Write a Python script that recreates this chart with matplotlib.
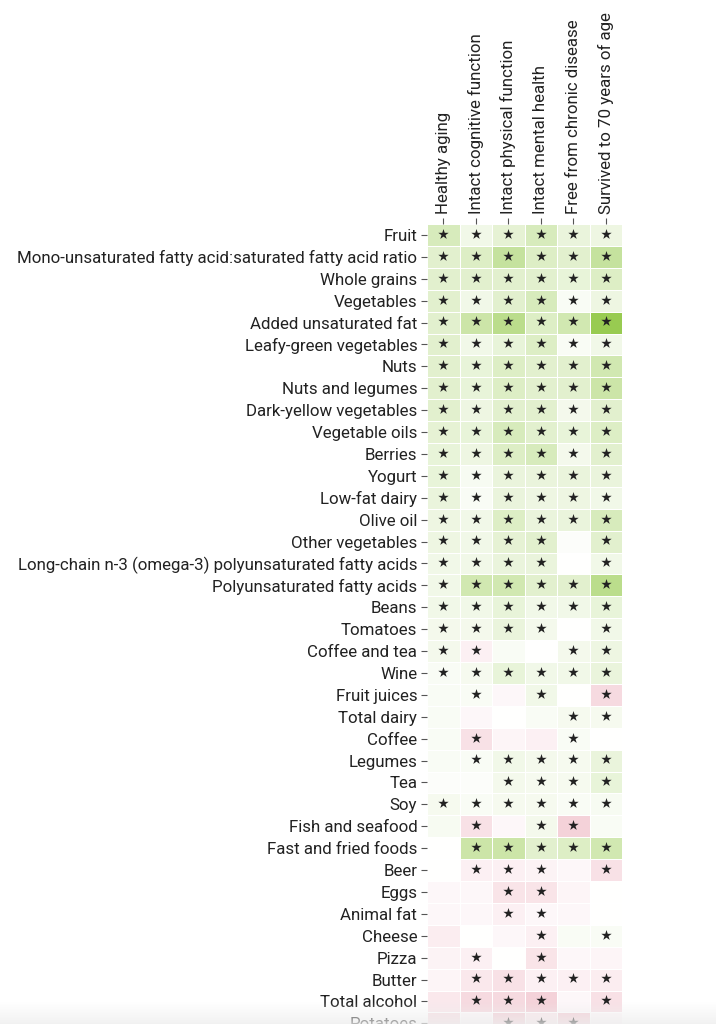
import numpy as np
import matplotlib
matplotlib.use("Agg")
import matplotlib.pyplot as plt
from matplotlib.colors import LinearSegmentedColormap

plt.rcParams['font.family'] = ['Roboto', 'DejaVu Sans']

outcomes = ["Healthy aging", "Intact cognitive function", "Intact physical function",
            "Intact mental health", "Free from chronic disease", "Survived to 70 years of age"]

foods = ["Fruit", "Mono-unsaturated fatty acid:saturated fatty acid ratio", "Whole grains",
         "Vegetables", "Added unsaturated fat", "Leafy-green vegetables", "Nuts",
         "Nuts and legumes", "Dark-yellow vegetables", "Vegetable oils", "Berries", "Yogurt",
         "Low-fat dairy", "Olive oil", "Other vegetables",
         "Long-chain n-3 (omega-3) polyunsaturated fatty acids", "Polyunsaturated fatty acids",
         "Beans", "Tomatoes", "Coffee and tea", "Wine", "Fruit juices", "Total dairy", "Coffee",
         "Legumes", "Tea", "Soy", "Fish and seafood", "Fast and fried foods", "Beer", "Eggs",
         "Animal fat", "Cheese", "Pizza", "Butter", "Total alcohol", "Potatoes"]

# association strength (positive = green, negative = pink)
values = np.array([
    [0.35, 0.12, 0.22, 0.35, 0.18, 0.15],   # Fruit
    [0.25, 0.30, 0.50, 0.30, 0.25, 0.50],   # MUFA:SFA
    [0.25, 0.25, 0.25, 0.25, 0.20, 0.30],   # Whole grains
    [0.25, 0.12, 0.25, 0.35, 0.05, 0.15],   # Vegetables
    [0.25, 0.45, 0.60, 0.30, 0.40, 0.90],   # Added unsaturated fat
    [0.25, 0.12, 0.20, 0.30, 0.05, 0.12],   # Leafy-green
    [0.25, 0.20, 0.30, 0.25, 0.25, 0.40],   # Nuts
    [0.25, 0.20, 0.30, 0.25, 0.25, 0.45],   # Nuts and legumes
    [0.25, 0.15, 0.25, 0.25, 0.10, 0.25],   # Dark-yellow
    [0.22, 0.20, 0.35, 0.25, 0.20, 0.30],   # Vegetable oils
    [0.20, 0.15, 0.30, 0.35, 0.10, 0.25],   # Berries
    [0.20, 0.07, 0.18, 0.18, 0.18, 0.18],   # Yogurt
    [0.18, 0.05, 0.18, 0.15, 0.15, 0.12],   # Low-fat dairy
    [0.15, 0.12, 0.30, 0.18, 0.18, 0.35],   # Olive oil
    [0.15, 0.12, 0.22, 0.25, 0.03, 0.25],   # Other vegetables
    [0.12, 0.12, 0.18, 0.18, 0.00, 0.12],   # Long-chain n-3
    [0.12, 0.40, 0.40, 0.25, 0.25, 0.60],   # PUFA
    [0.12, 0.12, 0.20, 0.12, 0.12, 0.20],   # Beans
    [0.10, 0.10, 0.18, 0.10, 0.00, 0.12],   # Tomatoes
    [0.10, -0.10, 0.05, 0.00, 0.10, 0.15],  # Coffee and tea
    [0.05, 0.08, 0.20, 0.12, 0.12, 0.18],   # Wine
    [0.05, 0.05, -0.05, 0.12, 0.00, -0.25], # Fruit juices
    [0.05, -0.05, 0.00, 0.05, 0.08, 0.08],  # Total dairy
    [0.05, -0.20, -0.07, -0.10, 0.05, 0.00],# Coffee
    [0.05, 0.05, 0.12, 0.10, 0.08, 0.18],   # Legumes
    [0.03, 0.03, 0.10, 0.08, 0.08, 0.20],   # Tea
    [0.08, 0.05, 0.08, 0.08, 0.05, 0.07],   # Soy
    [0.07, -0.20, -0.05, 0.10, -0.30, 0.05],# Fish and seafood
    [0.00, 0.45, 0.45, 0.25, 0.30, 0.40],   # Fast and fried foods
    [0.00, -0.10, -0.10, -0.08, -0.05, -0.20], # Beer
    [-0.05, -0.05, -0.18, -0.18, -0.07, 0.00], # Eggs
    [-0.05, -0.05, -0.10, -0.05, -0.05, 0.00], # Animal fat
    [-0.12, 0.00, -0.05, -0.10, 0.05, 0.05],   # Cheese
    [-0.08, -0.10, 0.00, -0.18, -0.05, -0.07], # Pizza
    [-0.07, -0.15, -0.20, -0.10, -0.10, -0.12],# Butter
    [-0.15, -0.25, -0.25, -0.30, -0.05, -0.20],# Total alcohol
    [-0.20, -0.05, -0.30, -0.15, -0.30, -0.05],# Potatoes
])

# significance markers (1 = significant)
signif = np.array([
    [1,1,1,1,1,1], [1,1,1,1,1,1], [1,1,1,1,1,1], [1,1,1,1,1,1], [1,1,1,1,1,1],
    [1,1,1,1,1,1], [1,1,1,1,1,1], [1,1,1,1,1,1], [1,1,1,1,1,1], [1,1,1,1,1,1],
    [1,1,1,1,1,1], [1,1,1,1,1,1], [1,1,1,1,1,1], [1,1,1,1,1,1], [1,1,1,1,0,1],
    [1,1,1,1,0,1], [1,1,1,1,1,1], [1,1,1,1,1,1], [1,1,1,1,0,1], [1,1,0,0,1,1],
    [1,1,1,1,1,1], [0,1,0,1,0,1], [0,0,0,0,1,1], [0,1,0,0,1,0], [0,1,1,1,1,1],
    [0,0,1,1,1,1], [1,1,1,1,1,1], [0,1,0,1,1,0], [0,1,1,1,1,1], [0,1,1,1,0,1],
    [0,0,1,1,0,0], [0,0,1,1,0,0], [0,0,0,1,0,1], [0,1,0,1,0,0], [0,1,1,1,1,1],
    [0,1,1,1,0,1], [0,0,1,1,1,0],
])

cmap = LinearSegmentedColormap.from_list(
    "pg", [(0.0, "#dc6a80"), (0.5, "#ffffff"), (1.0, "#8dc63f")])

W, H = 716, 1024
fig = plt.figure(figsize=(W / 100, H / 100), dpi=100)
n_rows = len(foods)
row_h = 21.9
top_px = 224
left_px, right_px = 427, 622
ax_h = n_rows * row_h
ax = fig.add_axes([left_px / W, 1 - (top_px + ax_h) / H,
                   (right_px - left_px) / W, ax_h / H])

ax.pcolormesh(values, cmap=cmap, vmin=-1, vmax=1, edgecolors="white", linewidth=0.5)
ax.set_xlim(0, len(outcomes))
ax.set_ylim(n_rows, 0)

rr, cc = np.nonzero(signif)
ax.scatter(cc + 0.5, rr + 0.45, marker="*", s=62, color="#222222",
           linewidths=0, zorder=3, clip_on=True)

ax.set_yticks(np.arange(n_rows) + 0.5)
ax.set_yticklabels(foods, fontsize=12.2, color="#222222")
ax.xaxis.tick_top()
ax.set_xticks(np.arange(len(outcomes)) + 0.5)
ax.set_xticklabels(outcomes, rotation=90, fontsize=12.2, color="#222222")
ax.tick_params(axis="both", length=4, width=0.8, color="#555555", pad=3)
for s in ax.spines.values():
    s.set_visible(False)

# bottom fade overlay
fade = fig.add_axes([0, 0, 1, 22 / H])
grad = np.linspace(0, 1, 50).reshape(-1, 1)
rgba = np.zeros((50, 1, 4))
rgba[..., :3] = 0.93
rgba[..., 3] = (grad * 0.75)
fade.imshow(rgba, aspect="auto", extent=[0, 1, 0, 1], origin="upper")
fade.axis("off")

fig.savefig("out.png", dpi=100)
